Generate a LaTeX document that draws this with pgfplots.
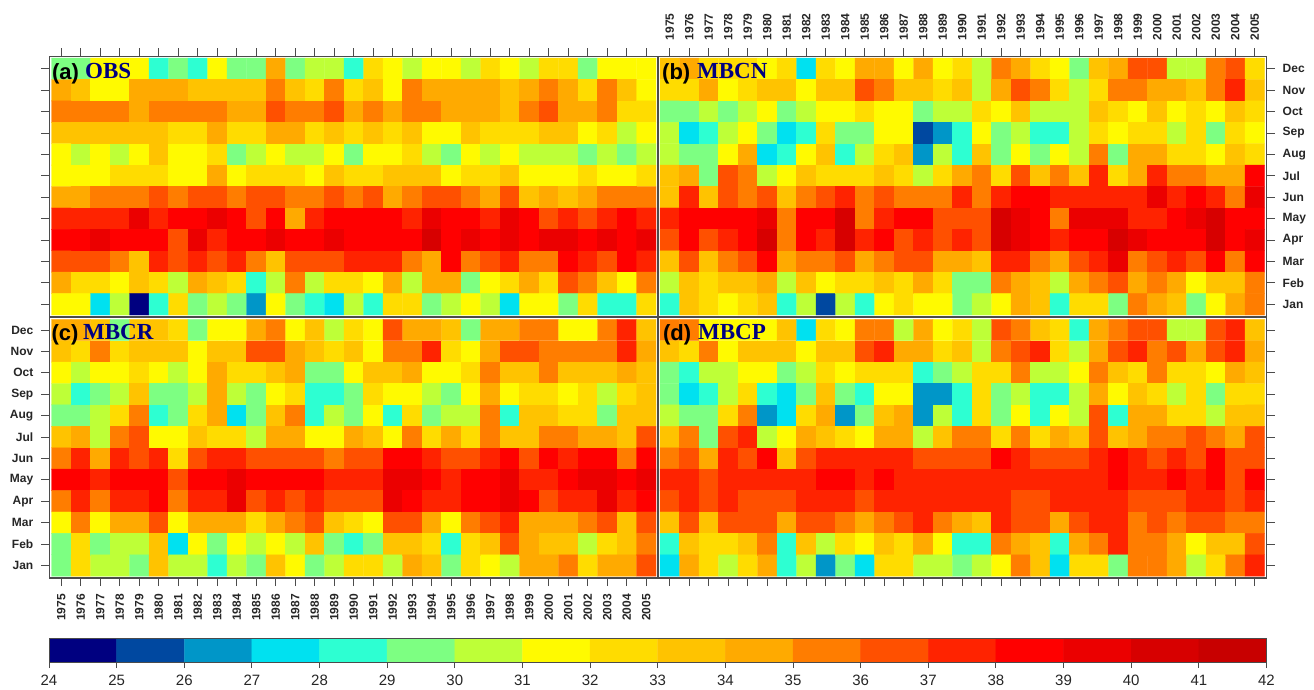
\documentclass[border=0pt]{standalone}
\usepackage{fontspec}
\setmainfont{Liberation Sans}
\newfontfamily\serifb{Liberation Serif}[Scale=1]
\usepackage{pgfplots}
\usepackage{pgfplotstable}
\pgfplotsset{compat=1.18}
\definecolor{frame}{RGB}{75,75,75}
\definecolor{ttl}{RGB}{0,0,128}
\pgfplotstableread[row sep=\\]{
z\\
29\\29\\31\\31\\31\\28\\29\\28\\31\\29\\29\\34\\29\\30\\30\\28\\32\\31\\30\\31\\31\\30\\32\\31\\30\\32\\32\\29\\31\\31\\31\\
34\\33\\31\\31\\34\\34\\34\\33\\33\\33\\33\\35\\33\\32\\35\\32\\33\\31\\35\\34\\34\\34\\34\\33\\34\\35\\34\\32\\35\\33\\31\\
35\\35\\35\\35\\34\\35\\35\\35\\35\\34\\34\\36\\35\\35\\36\\34\\35\\34\\35\\35\\34\\34\\34\\33\\35\\36\\34\\34\\35\\32\\32\\
33\\33\\33\\33\\33\\33\\32\\32\\34\\32\\32\\34\\34\\32\\33\\32\\33\\32\\33\\31\\31\\33\\32\\32\\32\\33\\33\\31\\32\\30\\31\\
31\\30\\31\\30\\31\\33\\31\\31\\32\\29\\30\\31\\30\\30\\31\\29\\31\\31\\32\\30\\29\\31\\30\\31\\30\\30\\30\\29\\30\\29\\30\\
31\\31\\31\\32\\32\\32\\31\\31\\34\\31\\32\\32\\32\\31\\33\\32\\32\\33\\33\\33\\31\\32\\32\\33\\31\\31\\31\\32\\31\\31\\32\\
34\\34\\35\\35\\35\\36\\35\\36\\36\\35\\36\\36\\35\\35\\36\\35\\36\\34\\35\\36\\36\\35\\34\\36\\33\\34\\33\\34\\35\\35\\35\\
37\\37\\37\\37\\39\\37\\38\\38\\39\\38\\36\\38\\34\\37\\38\\38\\38\\38\\37\\39\\38\\38\\37\\39\\38\\36\\37\\36\\37\\38\\37\\
38\\38\\39\\38\\38\\38\\36\\39\\37\\38\\38\\39\\38\\38\\39\\38\\38\\38\\38\\40\\38\\39\\38\\39\\38\\39\\39\\38\\39\\38\\39\\
36\\36\\36\\35\\33\\37\\36\\37\\36\\37\\35\\33\\36\\36\\36\\37\\37\\37\\35\\34\\38\\35\\36\\37\\35\\35\\38\\37\\36\\38\\37\\
34\\32\\32\\31\\33\\32\\30\\34\\33\\32\\28\\30\\35\\30\\32\\32\\31\\34\\30\\34\\34\\29\\31\\32\\34\\32\\36\\35\\33\\31\\35\\
31\\31\\27\\30\\24\\28\\32\\29\\30\\29\\26\\31\\29\\28\\27\\30\\28\\32\\32\\29\\30\\31\\30\\27\\31\\31\\29\\32\\28\\28\\32\\
}\tA
\pgfplotstableread[row sep=\\]{
z\\
33\\34\\32\\32\\32\\31\\32\\27\\32\\31\\34\\34\\31\\34\\31\\32\\30\\35\\34\\32\\31\\29\\33\\34\\36\\36\\30\\30\\35\\36\\32\\
32\\32\\34\\31\\32\\33\\33\\31\\33\\33\\36\\35\\33\\33\\32\\33\\30\\34\\36\\35\\32\\30\\32\\35\\35\\34\\34\\33\\35\\37\\33\\
29\\29\\30\\29\\30\\31\\29\\30\\31\\31\\32\\31\\31\\29\\30\\30\\32\\31\\33\\30\\30\\30\\33\\32\\31\\33\\31\\32\\31\\33\\32\\
30\\27\\28\\30\\31\\29\\27\\28\\32\\29\\29\\31\\31\\25\\26\\28\\31\\29\\30\\28\\28\\30\\32\\31\\32\\32\\30\\32\\29\\32\\31\\
30\\29\\29\\31\\34\\27\\28\\31\\33\\28\\30\\32\\33\\26\\30\\28\\33\\29\\31\\29\\31\\30\\35\\29\\34\\34\\32\\32\\31\\33\\32\\
33\\34\\29\\36\\35\\30\\31\\33\\32\\32\\32\\33\\32\\30\\32\\34\\35\\32\\36\\33\\35\\33\\37\\32\\34\\37\\35\\35\\34\\34\\38\\
33\\37\\33\\36\\35\\36\\33\\35\\36\\37\\35\\36\\35\\35\\35\\37\\35\\37\\38\\38\\37\\37\\37\\37\\37\\39\\37\\38\\37\\35\\39\\
37\\38\\38\\38\\38\\39\\35\\38\\38\\40\\35\\37\\38\\38\\36\\36\\36\\40\\39\\38\\35\\39\\39\\39\\37\\37\\38\\39\\40\\38\\38\\
36\\38\\36\\37\\38\\40\\35\\38\\37\\40\\37\\38\\36\\37\\36\\37\\36\\40\\39\\38\\37\\38\\38\\40\\39\\38\\38\\38\\40\\38\\39\\
33\\36\\33\\35\\36\\38\\34\\35\\35\\36\\34\\35\\36\\36\\34\\34\\33\\37\\37\\35\\34\\36\\37\\39\\35\\36\\37\\36\\38\\35\\38\\
30\\33\\32\\33\\33\\34\\30\\33\\31\\32\\32\\33\\32\\34\\32\\29\\29\\35\\34\\33\\30\\34\\35\\36\\34\\35\\34\\31\\33\\33\\35\\
28\\33\\32\\31\\32\\33\\28\\30\\25\\30\\28\\31\\32\\31\\31\\29\\30\\31\\34\\33\\28\\32\\32\\29\\35\\34\\33\\29\\31\\34\\35\\
}\tB
\pgfplotstableread[row sep=\\]{
z\\
34\\34\\33\\29\\33\\33\\32\\29\\31\\31\\34\\35\\31\\33\\30\\32\\31\\36\\34\\34\\33\\29\\34\\34\\35\\35\\31\\31\\35\\37\\33\\
33\\32\\35\\32\\33\\33\\33\\31\\33\\33\\36\\36\\34\\33\\32\\33\\31\\35\\35\\37\\32\\31\\34\\36\\36\\35\\35\\35\\35\\37\\34\\
31\\30\\31\\31\\32\\31\\30\\31\\34\\32\\32\\33\\34\\29\\29\\31\\33\\33\\34\\31\\31\\32\\35\\33\\33\\35\\33\\33\\33\\34\\33\\
30\\28\\29\\30\\33\\29\\29\\30\\34\\30\\29\\31\\32\\28\\28\\29\\32\\31\\31\\30\\29\\31\\34\\31\\32\\32\\31\\32\\30\\32\\33\\
29\\29\\30\\32\\35\\28\\29\\32\\34\\27\\29\\33\\35\\28\\30\\29\\31\\28\\32\\29\\30\\30\\35\\28\\33\\33\\32\\32\\29\\33\\33\\
33\\34\\30\\35\\36\\31\\31\\33\\32\\32\\30\\34\\34\\31\\31\\34\\33\\31\\35\\32\\34\\32\\35\\33\\33\\35\\35\\34\\34\\33\\36\\
35\\37\\34\\37\\36\\37\\32\\36\\37\\37\\36\\36\\36\\36\\35\\36\\36\\38\\38\\37\\36\\36\\37\\38\\36\\38\\37\\38\\38\\35\\38\\
38\\38\\37\\38\\38\\38\\36\\38\\38\\39\\38\\38\\38\\38\\37\\37\\37\\39\\39\\38\\37\\38\\38\\39\\37\\37\\38\\39\\39\\38\\39\\
35\\37\\35\\37\\37\\38\\35\\37\\37\\39\\36\\37\\36\\37\\36\\36\\36\\39\\38\\37\\37\\38\\38\\39\\38\\36\\37\\37\\39\\37\\38\\
31\\35\\31\\34\\34\\36\\31\\34\\34\\34\\32\\34\\35\\36\\33\\32\\31\\36\\36\\34\\31\\35\\36\\37\\34\\34\\34\\35\\36\\33\\36\\
29\\32\\29\\30\\30\\33\\27\\31\\29\\31\\30\\31\\30\\33\\29\\28\\29\\33\\33\\32\\28\\32\\33\\36\\34\\33\\33\\30\\32\\33\\35\\
29\\32\\30\\30\\29\\33\\30\\30\\28\\30\\29\\33\\31\\29\\30\\32\\32\\30\\34\\33\\29\\32\\31\\30\\34\\34\\35\\32\\34\\34\\36\\
}\tC
\pgfplotstableread[row sep=\\]{
z\\
35\\35\\31\\31\\31\\31\\33\\27\\32\\31\\35\\35\\30\\34\\31\\32\\30\\36\\35\\33\\32\\28\\34\\35\\36\\36\\30\\30\\36\\37\\33\\
33\\32\\35\\31\\33\\33\\33\\31\\33\\33\\36\\37\\34\\34\\32\\33\\30\\35\\36\\37\\32\\30\\34\\36\\37\\35\\36\\34\\36\\37\\34\\
29\\28\\30\\30\\31\\31\\29\\30\\32\\31\\32\\32\\32\\28\\29\\30\\32\\32\\35\\30\\30\\31\\35\\33\\32\\35\\32\\32\\31\\34\\33\\
29\\27\\28\\30\\32\\28\\27\\29\\33\\29\\28\\31\\31\\26\\26\\28\\32\\29\\30\\28\\28\\30\\34\\31\\33\\32\\30\\32\\29\\32\\32\\
30\\29\\29\\32\\35\\26\\27\\32\\34\\26\\29\\33\\34\\26\\30\\28\\32\\29\\31\\28\\31\\30\\36\\28\\34\\34\\32\\32\\30\\33\\33\\
33\\35\\29\\36\\37\\30\\31\\34\\33\\32\\31\\34\\34\\30\\33\\35\\35\\32\\35\\32\\34\\33\\36\\33\\34\\35\\35\\36\\35\\34\\36\\
35\\36\\34\\37\\36\\38\\33\\36\\37\\37\\37\\37\\37\\36\\36\\36\\36\\38\\37\\36\\36\\36\\37\\38\\37\\36\\37\\36\\38\\36\\36\\
37\\37\\36\\37\\37\\37\\37\\37\\38\\38\\37\\38\\37\\37\\37\\37\\37\\37\\37\\37\\37\\37\\37\\38\\37\\37\\38\\37\\38\\36\\38\\
36\\37\\36\\37\\36\\36\\36\\37\\37\\37\\36\\37\\37\\37\\37\\37\\37\\37\\36\\36\\37\\37\\37\\37\\36\\36\\36\\37\\37\\36\\37\\
33\\36\\33\\36\\36\\36\\34\\36\\36\\35\\34\\35\\36\\37\\35\\34\\33\\37\\36\\36\\34\\36\\37\\37\\35\\36\\35\\36\\36\\35\\35\\
28\\33\\32\\32\\33\\35\\28\\33\\30\\32\\31\\33\\32\\34\\31\\28\\28\\35\\34\\33\\28\\34\\35\\37\\35\\35\\34\\31\\33\\33\\36\\
27\\34\\32\\30\\32\\34\\28\\30\\26\\29\\27\\32\\32\\30\\30\\29\\30\\31\\35\\33\\27\\32\\32\\29\\35\\35\\34\\30\\32\\35\\37\\
}\tD
\pgfplotstableread[row sep=\\]{
x\\
24\\25\\26\\27\\28\\29\\30\\31\\32\\33\\34\\35\\36\\37\\38\\39\\40\\41\\
24\\25\\26\\27\\28\\29\\30\\31\\32\\33\\34\\35\\36\\37\\38\\39\\40\\41\\
}\tBar
\pgfplotsset{
  colormap={bins}{
    rgb255(24)=(0,0,128) rgb255(25)=(0,72,160) rgb255(26)=(0,150,200) rgb255(27)=(0,225,240)
    rgb255(28)=(45,255,210) rgb255(29)=(125,255,130) rgb255(30)=(190,255,55) rgb255(31)=(255,250,0)
    rgb255(32)=(255,220,0) rgb255(33)=(255,195,0) rgb255(34)=(255,170,0) rgb255(35)=(255,125,0)
    rgb255(36)=(255,80,0) rgb255(37)=(255,35,0) rgb255(38)=(255,0,0) rgb255(39)=(235,0,0)
    rgb255(40)=(215,0,0) rgb255(41)=(200,0,0) rgb255(42)=(200,0,0)},
  colormap access=piecewise constant,
  panel/.style={
    scale only axis, width=608.5pt, height=260.5pt,
    xmin=-0.603, xmax=30.603, ymin=-0.584, ymax=11.584,
    point meta min=24, point meta max=42,
    axis line style={draw=frame, line width=1.3pt},
    tick style={draw=frame, line width=1pt},
    tick align=outside, major tick length=8pt,
    xtick={0,...,30},
    xticklabels={1975,1976,1977,1978,1979,1980,1981,1982,1983,1984,1985,1986,1987,1988,1989,1990,1991,1992,1993,1994,1995,1996,1997,1998,1999,2000,2001,2002,2003,2004,2005},
    ytick={0,...,11},
    yticklabels={Jan,Feb,Mar,Apr,May,Jun,Jul,Aug,Sep,Oct,Nov,Dec},
    tick label style={font=\fontsize{12}{12}\selectfont\bfseries, text=black!85, inner sep=0pt},
    xticklabel style={rotate=90},
    xticklabel shift=8pt, yticklabel shift=8pt,
    axis on top,
  },
  cells/.style={matrix plot*, mesh/cols=31, point meta=explicit},
}
% #1 table, #2 tag, #3 name, #4 tag x, #5 name x
\newcommand\panelplot[5]{%
  \addplot[cells] table[x index=0, y index=0, x expr={mod(\coordindex,31)}, y expr={11-floor((\coordindex+0.5)/31)}, meta index=0, meta expr={\thisrow{z}+0.5}] {#1};
  \node[anchor=base west, inner sep=0pt, font=\fontsize{22}{22}\selectfont\bfseries, text=black] at (axis description cs:#4,0.912) {#2};
  \node[anchor=base west, inner sep=0pt, font=\fontsize{23}{23}\selectfont\serifb\bfseries, text=ttl] at (axis description cs:#5,0.915) {#3};
}
\begin{document}
\begin{tikzpicture}[x=1pt,y=1pt]
\useasboundingbox (0,0) rectangle (1314,689);
\begin{axis}[panel, at={(49.5pt,372.2pt)}, anchor=south west, xtick pos=upper, ytick pos=left, xticklabels={}, yticklabels={}]
\panelplot{\tA}{(a)}{OBS}{0.004}{0.0583}
\end{axis}
\begin{axis}[panel, at={(658pt,372.2pt)}, anchor=south west, xtick pos=upper, ytick pos=right,
  xticklabel pos=upper, yticklabel pos=right, xticklabel style={anchor=west},yticklabel style={anchor=west}]
\panelplot{\tB}{(b)}{MBCN}{0.0066}{0.064}
\end{axis}
\begin{axis}[panel, at={(49.5pt,111pt)}, anchor=south west, xtick pos=lower, ytick pos=left,
  xticklabel pos=lower, yticklabel pos=left, xticklabel style={anchor=east},yticklabel style={anchor=east}]
\panelplot{\tC}{(c)}{MBCR}{0.003}{0.055}
\end{axis}
\begin{axis}[panel, at={(658pt,111pt)}, anchor=south west, xtick pos=lower, ytick pos=right, xticklabels={}, yticklabels={}]
\panelplot{\tD}{(d)}{MBCP}{0.008}{0.0657}
\end{axis}
\begin{axis}[scale only axis, width=1217.5pt, height=23.5pt, at={(49pt,27pt)}, anchor=south west,
  xmin=24, xmax=42, ymin=-1, ymax=1, point meta min=24, point meta max=42,
  xtick={24,...,42}, ytick=\empty, xtick pos=lower, tick align=outside, major tick length=6pt,
  axis line style={draw=frame, line width=1pt}, tick style={draw=frame, line width=1pt},
  tick label style={font=\fontsize{15}{15}\selectfont, text=black!85, inner sep=0pt},
  xticklabel shift=7pt, /pgf/number format/assume math mode=true, axis on top]
\addplot[matrix plot*, mesh/cols=18, point meta=explicit] table[x index=0, y index=0, x expr={\thisrow{x}+0.5}, y expr={10*floor((\coordindex+0.5)/18)}, meta index=0, meta expr={\thisrow{x}+0.5}] {\tBar};
\end{axis}
\end{tikzpicture}
\end{document}
